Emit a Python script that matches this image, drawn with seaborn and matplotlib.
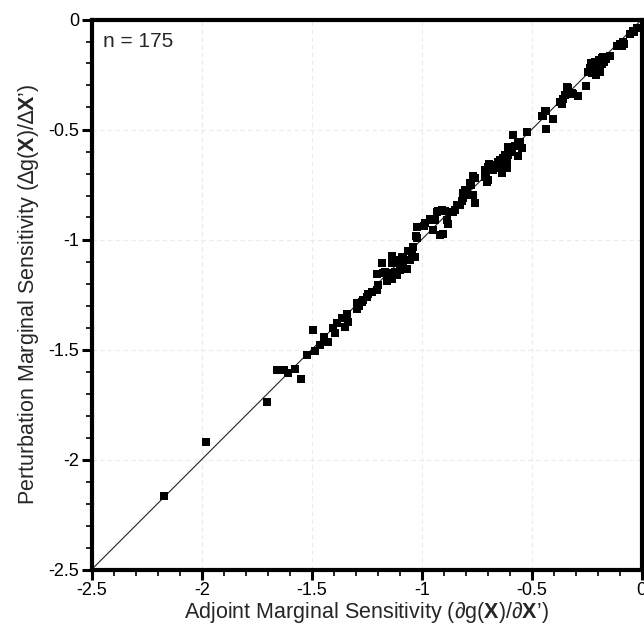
import matplotlib
matplotlib.use("Agg")
import matplotlib.pyplot as plt
import seaborn as sns
import pandas as pd
from matplotlib.ticker import MultipleLocator, FixedLocator

# ---- data ----
adjoint = [
    -2.171, -1.980, -1.705, -1.659, -1.625, -1.606, -1.576, -1.549, -1.523, -1.493,
    -1.487, -1.462, -1.442, -1.425, -1.402, -1.394, -1.385, -1.362, -1.341, -1.333,
    -1.349, -1.296, -1.294, -1.284, -1.273, -1.265, -1.250, -1.243, -1.227, -1.205,
    -1.197, -1.203, -1.182, -1.175, -1.167, -1.159, -1.144, -1.136, -1.136, -1.136,
    -1.121, -1.114, -1.114, -1.099, -1.099, -1.091, -1.084, -1.084, -1.068, -1.061,
    -1.053, -1.045, -1.038, -1.030, -1.023, -1.021, -1.026, -0.984, -0.962, -0.990,
    -0.951, -0.949, -0.940, -0.932, -0.925, -0.917, -0.902, -0.909, -0.894, -0.886,
    -0.879, -0.871, -0.856, -0.849, -0.841, -0.826, -0.811, -0.811, -0.816, -0.803,
    -0.795, -0.795, -0.780, -0.774, -0.765, -0.760, -0.765, -0.758, -0.712, -0.712,
    -0.705, -0.708, -0.705, -0.697, -0.697, -0.692, -0.682, -0.675, -0.667, -0.659,
    -0.652, -0.644, -0.644, -0.636, -0.636, -0.629, -0.621, -0.618, -0.614, -0.614,
    -0.606, -0.606, -0.599, -0.591, -0.584, -0.576, -0.561, -0.561, -0.553, -0.545,
    -0.520, -0.455, -0.447, -0.440, -0.435, -0.434, -0.402, -0.371, -0.364, -0.356,
    -0.349, -0.341, -0.335, -0.318, -0.311, -0.288, -0.255, -0.220, -0.220, -0.205,
    -0.205, -0.197, -0.190, -0.190, -0.182, -0.144, -0.099, -0.084, -0.080, -0.038,
    -0.023, -0.235, -0.226, -0.212, -0.199, -0.180, -0.171, -0.216, -0.203, -0.194,
    -0.230, -0.176, -0.208, -0.244, -0.017, -0.035, -0.053, -0.112, -0.090, -0.162,
    -0.212, -0.190, -0.599, -0.699, -1.088,
]
perturbation = [
    -2.166, -1.920, -1.740, -1.595, -1.595, -1.607, -1.590, -1.635, -1.525, -1.411,
    -1.507, -1.480, -1.441, -1.466, -1.402, -1.426, -1.381, -1.358, -1.338, -1.375,
    -1.396, -1.289, -1.316, -1.302, -1.283, -1.275, -1.260, -1.248, -1.237, -1.230,
    -1.209, -1.157, -1.107, -1.154, -1.146, -1.188, -1.154, -1.075, -1.180, -1.108,
    -1.146, -1.161, -1.108, -1.093, -1.139, -1.078, -1.078, -1.116, -1.133, -1.051,
    -1.093, -1.063, -1.036, -1.078, -0.995, -0.943, -0.984, -0.925, -0.908, -0.939,
    -0.911, -0.959, -0.911, -0.874, -0.870, -0.980, -0.975, -0.866, -0.869, -0.911,
    -0.930, -0.874, -0.874, -0.866, -0.843, -0.843, -0.813, -0.790, -0.825, -0.775,
    -0.775, -0.798, -0.745, -0.752, -0.711, -0.720, -0.798, -0.833, -0.715, -0.684,
    -0.684, -0.696, -0.737, -0.730, -0.669, -0.657, -0.661, -0.684, -0.669, -0.676,
    -0.646, -0.639, -0.657, -0.666, -0.699, -0.631, -0.616, -0.635, -0.654, -0.676,
    -0.616, -0.578, -0.593, -0.585, -0.525, -0.577, -0.555, -0.622, -0.555, -0.585,
    -0.513, -0.439, -0.439, -0.416, -0.415, -0.499, -0.452, -0.375, -0.386, -0.361,
    -0.343, -0.305, -0.311, -0.335, -0.339, -0.348, -0.302, -0.207, -0.230, -0.207,
    -0.222, -0.222, -0.230, -0.237, -0.176, -0.166, -0.111, -0.104, -0.111, -0.050,
    -0.040, -0.220, -0.243, -0.193, -0.193, -0.202, -0.193, -0.211, -0.239, -0.184,
    -0.198, -0.170, -0.252, -0.239, -0.039, -0.057, -0.066, -0.120, -0.120, -0.180,
    -0.225, -0.211, -0.602, -0.675, -1.102,
]
ticks = [-2.5, -2.0, -1.5, -1.0, -0.5, 0.0]
tick_labels = ["-2.5", "-2", "-1.5", "-1", "-0.5", "0"]
n_label = "n = 175"
x_label = "Adjoint Marginal Sensitivity (\u2202g($\\mathbf{X}$)/\u2202$\\mathbf{X}$\u2019)"
y_label = "Perturbation Marginal Sensitivity (\u2206g($\\mathbf{X}$)/\u2206$\\mathbf{X}$\u2019)"

df = pd.DataFrame({"adjoint": adjoint, "perturbation": perturbation})

sns.set_theme(style="white")
plt.rcParams["font.family"] = ["Liberation Sans", "DejaVu Sans"]
plt.rcParams["mathtext.fontset"] = "custom"
plt.rcParams["mathtext.rm"] = "Liberation Sans"
plt.rcParams["mathtext.bf"] = "Liberation Sans:bold"
plt.rcParams["axes.unicode_minus"] = False

fig = plt.figure(figsize=(6.44, 6.29), dpi=100)
ax = fig.add_axes([91.7 / 644, 59.5 / 629, 550 / 644, 550 / 629])

# grid
for t in ticks[1:-1]:
    ax.axvline(t, color="#ebebeb", lw=0.8, ls=(0, (4, 3)), zorder=0)
    ax.axhline(t, color="#ebebeb", lw=0.8, ls=(0, (4, 3)), zorder=0)

# identity line
ax.plot([-2.5, 0], [-2.5, 0], color="#222222", lw=0.8, zorder=1)

sns.scatterplot(data=df, x="adjoint", y="perturbation", marker="s", s=32,
                color="black", linewidth=0, ax=ax, zorder=2, legend=False)

ax.set_xlim(-2.5, 0)
ax.set_ylim(-2.5, 0)
ax.xaxis.set_major_locator(FixedLocator(ticks))
ax.yaxis.set_major_locator(FixedLocator(ticks))
ax.set_xticklabels(tick_labels)
ax.set_yticklabels(tick_labels)
ax.xaxis.set_minor_locator(MultipleLocator(0.1))
ax.yaxis.set_minor_locator(MultipleLocator(0.1))
ax.tick_params(which="major", direction="out", length=7, width=2.2,
               labelsize=13, colors="black", bottom=True, left=True, pad=2)
ax.tick_params(which="minor", direction="out", length=4, width=1.2,
               colors="black", bottom=True, left=True)
for sp in ax.spines.values():
    sp.set_linewidth(3)
    sp.set_color("black")

ax.set_xlabel(x_label, fontsize=15.5, labelpad=0.5)
ax.set_ylabel(y_label, fontsize=15.5, labelpad=5)
ax.text(0.02, 0.978, n_label, transform=ax.transAxes, ha="left", va="top",
        fontsize=15)

fig.savefig("out.png", dpi=100)
